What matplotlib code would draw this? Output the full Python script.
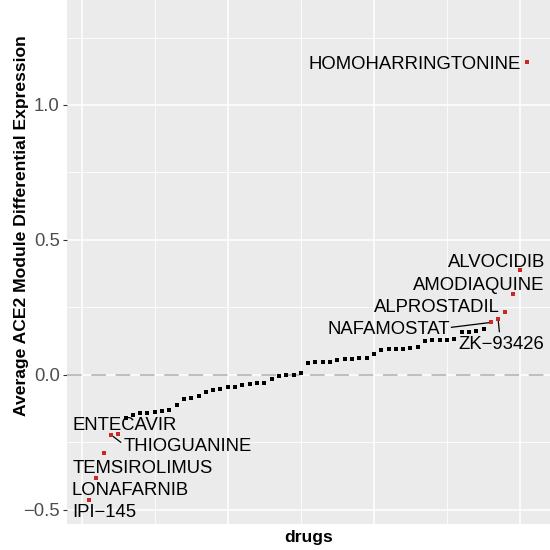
import numpy as np
import matplotlib
matplotlib.use("Agg")
import matplotlib.pyplot as plt
from matplotlib.ticker import MultipleLocator, FuncFormatter

plt.rcParams['font.family'] = ['Liberation Sans', 'DejaVu Sans']

# average ACE2 module differential expression, drugs sorted by value
expr = [-0.463, -0.381, -0.289, -0.222, -0.220, -0.160, -0.150, -0.142, -0.140, -0.137,
        -0.134, -0.130, -0.111, -0.089, -0.085, -0.080, -0.064, -0.058, -0.053, -0.047,
        -0.046, -0.036, -0.033, -0.032, -0.031, -0.016, -0.003, -0.001, 0.001, 0.005,
        0.042, 0.046, 0.047, 0.049, 0.053, 0.058, 0.060, 0.062, 0.064, 0.078,
        0.091, 0.094, 0.095, 0.097, 0.099, 0.104, 0.125, 0.128, 0.129, 0.130,
        0.133, 0.157, 0.160, 0.163, 0.169, 0.194, 0.206, 0.231, 0.299, 0.389,
        1.159]
rank = np.arange(1, len(expr) + 1)

# highlighted drugs: rank -> name
hl_rank = [1, 2, 3, 4, 5, 56, 57, 58, 59, 60, 61]
hl_name = ['IPI\u2212145', 'LONAFARNIB', 'TEMSIROLIMUS', 'THIOGUANINE', 'ENTECAVIR',
           'NAFAMOSTAT', 'ZK\u221293426', 'ALPROSTADIL', 'AMODIAQUINE', 'ALVOCIDIB',
           'HOMOHARRINGTONINE']
# label centres (rank, value) as placed by the repel layout
lab_x = [3.05, 6.68, 8.37, 14.55, 5.86, 42.09, 57.4, 48.64, 54.32, 56.78, 45.6]
lab_y = [-0.503, -0.421, -0.340, -0.257, -0.180, 0.177, 0.122, 0.257, 0.339, 0.425, 1.157]
# segment ends for labels that needed a leader line
seg_end = {3: (5.34, -0.250), 5: (50.62, 0.176), 6: (57.17, 0.160)}

expr = np.array(expr)
red = np.isin(rank, hl_rank)

fig = plt.figure(figsize=(5.5, 5.5), dpi=100)
ax = fig.add_axes([66.7 / 550, 26 / 550, (550 - 66.7) / 550, 524 / 550])
ax.set_facecolor('#EBEBEB')
for s in ax.spines.values():
    s.set_visible(False)

ax.set_xlim(-2.05, 64.1)
ax.set_ylim(-0.553, 1.389)
ax.xaxis.set_major_locator(MultipleLocator(20))
ax.xaxis.set_minor_locator(MultipleLocator(10))
ax.yaxis.set_major_locator(MultipleLocator(0.5))
ax.yaxis.set_minor_locator(MultipleLocator(0.25))
ax.grid(which='major', color='white', lw=1.1)
ax.grid(which='minor', color='white', lw=0.6)
ax.set_axisbelow(True)
ax.tick_params(axis='x', which='both', length=0, labelbottom=False)
ax.tick_params(axis='y', which='major', length=3, width=0.8, color='#333333',
               labelsize=13.3, labelcolor='#4D4D4D', pad=2)
ax.tick_params(axis='y', which='minor', length=0)
ax.yaxis.set_major_formatter(FuncFormatter(
    lambda v, p: ('%.1f' % v).replace('-', '\u2212')))

ax.axhline(0, color='#BEBEBE', lw=1.4, dashes=(7.5, 5), zorder=1)

ax.scatter(rank[~red], expr[~red], marker='s', s=12, color='black', lw=0, zorder=3)
ax.scatter(rank[red], expr[red], marker='s', s=12, color='#CD2626', lw=0, zorder=3)

for i, (r, name) in enumerate(zip(hl_rank, hl_name)):
    if i in seg_end:
        ex, ey = seg_end[i]
        ax.plot([r, ex], [expr[r - 1], ey], color='black', lw=0.9, zorder=2)
    ax.text(lab_x[i], lab_y[i] - 0.0246, name, ha='center', va='baseline',
            fontsize=13.3, color='black', zorder=4)

ax.set_xlabel('drugs', fontsize=12.6, fontweight='bold', labelpad=4)
ax.set_ylabel('Average ACE2 Module Differential Expression', fontsize=12.6,
              fontweight='bold')
ax.yaxis.set_label_coords(-0.077, 0.57)

fig.savefig('out.png', dpi=100)
